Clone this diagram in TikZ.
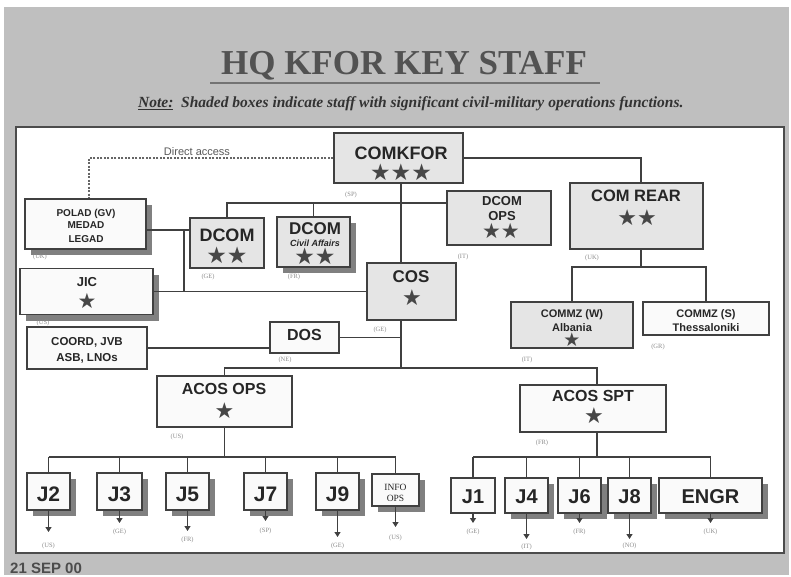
\documentclass[tikz,border=0pt]{standalone}
\usepackage{fontspec}
\setmainfont{Liberation Serif}
\setsansfont{Liberation Sans}
\newfontfamily\starfont{DejaVu Sans}
\usetikzlibrary{arrows.meta,shadows}
\newcommand\fsz[1]{\fontsize{#1}{#1}\selectfont}
\newcommand\bx[6]{\node[#1, minimum width=#5pt-#3pt, minimum height=#6pt-#4pt] (#2) at ({(#3+#5)/2},{(#4+#6)/2}) {};}
\newcommand\tl[5]{\node[tline, font={\sffamily\bfseries\fsz{#1}}] (#2) at (#3,#4) {#5};}
\newcommand\sr[5]{\node[sline, font={\starfont\fsz{#1}}] (#2) at (#3,#4) {#5};}
\tikzset{
  box/.style={draw=black!75, line width=1.3pt, fill=black!2, inner sep=0pt},
  shaded/.style={box, fill=black!10},
  shad/.style={drop shadow={shadow xshift=6pt, shadow yshift=-6pt, fill=black!50, opacity=1}},
  tline/.style={anchor=base, inner sep=0pt, text=black!85},
  sline/.style={inner sep=0pt, text=black!72},
  conn/.style={draw=black!75, line width=1.2pt},
  arr/.style={conn, -{Triangle[length=5pt,width=6pt]}},
  nat/.style={font=\rmfamily\fsz{6.5}, text=black!45, inner sep=0pt},
}
\begin{document}
\begin{tikzpicture}[x=1pt,y=-1pt]
\useasboundingbox (0,0) rectangle (791,577);
\fill[white] (0,0) rectangle (791,577);
\fill[black!25] (4,7) rectangle (789,575);
\draw[draw=black!70, line width=2pt, fill=white] (16,127) rectangle (784,553);

% title and note
\node[anchor=base, font=\rmfamily\bfseries\fsz{35}, text=black!68, inner sep=0pt] (title) at (404,75) {HQ KFOR KEY STAFF};
\draw[black!55, line width=2pt] (210,83) -- (600,83);
\node[anchor=base west, font=\rmfamily\bfseries\itshape\fsz{15.5}, text=black!80, inner sep=0pt] (note) at (138,108) {\underline{Note:}\ \ Shaded boxes indicate staff with significant civil-military operations functions.};
\node[anchor=base west, font=\sffamily\bfseries\fsz{15}, text=black!70, inner sep=0pt] (date) at (10,573) {21 SEP 00};

% boxes
\bx{shaded}{comkfor}{334}{133}{463}{183}
\bx{box,shad}{polad}{25}{199}{146}{249}
\bx{shaded}{dcom}{190}{218}{264}{268}
\bx{shaded,shad}{dcomca}{277}{217}{350}{267}
\bx{shaded}{dcomops}{447}{191}{551}{245}
\bx{shaded}{comrear}{570}{183}{703}{249}
\bx{box,shad}{jic}{20}{268.5}{153}{314.5}
\bx{shaded}{cos}{367}{263}{456}{320}
\bx{shaded}{commzw}{511}{302}{633}{348}
\bx{box}{commzs}{643}{302}{769}{335}
\bx{box}{dos}{270}{322}{339}{353}
\bx{box}{coord}{27}{327}{147}{369}
\bx{box}{acosops}{157}{376}{292}{427}
\bx{box}{acosspt}{520}{385}{666}{432}
\bx{box,shad}{jtwo}{27}{473}{70}{510}
\bx{box,shad}{jthree}{97}{473}{142}{510}
\bx{box,shad}{jfive}{166}{473}{209}{510}
\bx{box,shad}{jseven}{244}{473}{287}{510}
\bx{box,shad}{jnine}{316}{473}{359}{510}
\bx{box,shad}{info}{372}{474}{419}{506}
\bx{box}{jone}{451}{478}{495}{513}
\bx{box,shad}{jfour}{505}{478}{548}{513}
\bx{box,shad}{jsix}{558}{478}{601}{513}
\bx{box,shad}{jeight}{608}{478}{651}{513}
\bx{box,shad}{engr}{659}{478}{762}{513}

% box texts
\tl{18}{tcomkfor}{401}{159.5}{COMKFOR}
\sr{23}{scomkfor}{401}{172}{★★★}
\tl{10}{tpolada}{86}{216}{POLAD (GV)}
\tl{10}{tpoladb}{86}{229}{MEDAD}
\tl{10}{tpoladc}{86}{242}{LEGAD}
\tl{18}{tdcom}{227}{241}{DCOM}
\sr{23}{sdcom}{227}{255}{★★}
\tl{17}{tdcomca}{315}{234}{DCOM}
\node[tline, font={\sffamily\bfseries\itshape\fsz{9}}] (tcivil) at (315,246) {Civil Affairs};
\sr{23}{sdcomca}{315}{256}{★★}
\tl{13}{tdcomops}{502}{206}{DCOM}
\tl{13}{topsa}{502}{220}{OPS}
\sr{21}{sdcomops}{501}{231}{★★}
\tl{16.5}{tcomrear}{636}{202}{COM REAR}
\sr{22}{scomrear}{637}{218}{★★}
\tl{17}{tcos}{411}{282}{COS}
\sr{22}{scos}{412}{298}{★}
\tl{13}{tjic}{87}{286}{JIC}
\sr{21}{sjic}{87}{301}{★}
\tl{11}{tcommzw}{572}{317}{COMMZ (W)}
\tl{11}{talbania}{572}{331}{Albania}
\sr{19}{scommzw}{572}{340}{★}
\tl{11}{tcommzs}{706}{317}{COMMZ (S)}
\tl{11}{tthess}{706}{331}{Thessaloniki}
\tl{16}{tdos}{304.5}{340}{DOS}
\tl{11.5}{tcoorda}{87}{345}{COORD, JVB}
\tl{11.5}{tcoordb}{87}{361}{ASB, LNOs}
\tl{16}{tacosops}{224}{394}{ACOS OPS}
\sr{22}{sacosops}{224.5}{411}{★}
\tl{16}{tacosspt}{593}{401}{ACOS SPT}
\sr{22}{sacosspt}{594}{416}{★}
\tl{21}{tjtwo}{48.5}{501}{J2}
\tl{21}{tjthree}{119.5}{501}{J3}
\tl{21}{tjfive}{187.5}{501}{J5}
\tl{21}{tjseven}{265.5}{501}{J7}
\tl{21}{tjnine}{337.5}{501}{J9}
\node[tline, font={\rmfamily\fsz{9.5}}] (tinfoa) at (395.5,490) {INFO};
\node[tline, font={\rmfamily\fsz{9.5}}] (tinfob) at (395.5,501) {OPS};
\tl{20}{tjone}{473}{503.5}{J1}
\tl{20}{tjfour}{526.5}{503.5}{J4}
\tl{20}{tjsix}{579.5}{503.5}{J6}
\tl{20}{tjeight}{629.5}{503.5}{J8}
\tl{20}{tengr}{710.5}{503.5}{ENGR}

% connectors
\coordinate (spine) at (401,368);
\draw[conn] (comkfor.south -| spine) -- (cos.north -| spine);
\draw[conn] (cos.south -| spine) -- (spine);
\draw[conn] (acosops.north) |- (spine) -| ([xshift=4pt]acosspt.north);
\draw[conn] (dos.east) -- (dos.east -| spine);
\draw[conn] (coord.east) -- (coord.east -| dos.west);

\coordinate (hbar) at (230,203);
\draw[conn] (dcom.north) |- (dcomops.west |- hbar);
\draw[conn] (dcomca.north) -- (dcomca.north |- hbar);
\draw[conn] (comkfor.east) -| ([xshift=4.5pt]comrear.north);
\draw[black!60, line width=1.3pt, dash pattern=on 2pt off 1.5pt] (comkfor.west) -| ([xshift=3.5pt]polad.north);
\node[font=\sffamily\fsz{11}, text=black!65, inner sep=0pt] (dalabel) at (197,152) {Direct access};

\coordinate (pja) at (184,230);
\coordinate (pjb) at (184,291.5);
\draw[conn] (polad.east |- pja) -- (dcom.west |- pja);
\draw[conn] (pja) -- (pjb);
\draw[conn] (jic.east) -- (jic.east -| cos.west);

\coordinate (rearbar) at (641,267);
\draw[conn] (comrear.south -| rearbar) -- (rearbar);
\draw[conn] (commzw.north) |- (rearbar) -| (commzs.north);

\coordinate (opsbar) at (225,457);
\draw[conn] (acosops.south) -- (acosops.south |- opsbar);
\draw[conn] (jtwo.north |- opsbar) -- (info.north |- opsbar);
\foreach \nm in {jtwo,jthree,jfive,jseven,jnine,info}
  \draw[conn] (\nm.north) -- (\nm.north |- opsbar);

\coordinate (sptbar) at (597,457);
\draw[conn] ([xshift=4pt]acosspt.south) -- (sptbar);
\draw[conn] (jone.north |- sptbar) -- (engr.north |- sptbar);
\foreach \nm in {jone,jfour,jsix,jeight,engr}
  \draw[conn] (\nm.north) -- (\nm.north |- sptbar);

\foreach \nm/\ay/\ly/\tx in {jtwo/532/546/(US),jthree/523/532/(GE),jfive/531/540/(FR),jseven/521/531/(SP),jnine/537/546/(GE),info/527/538/(US),jone/523/532/(GE),jfour/539/547/(IT),jsix/523/532/(FR),jeight/539/546/(NO),engr/523/532/(UK)}{
  \coordinate (a\nm) at (\nm.south |- 0,\ay);
  \draw[arr] (\nm.south) -- (a\nm);
  \node[nat] (l\nm) at (\nm.south |- 0,\ly) {\tx};
}

% nation labels
\node[nat] (lcomkfor) at (351,195) {(SP)};
\node[nat] (lpolad) at (40,257) {(UK)};
\node[nat] (ldcom) at (208,277) {(GE)};
\node[nat] (ldcomca) at (294,277) {(FR)};
\node[nat] (ldcomops) at (463,257) {(IT)};
\node[nat] (lcomrear) at (592,258) {(UK)};
\node[nat] (lcommzw) at (527,360) {(IT)};
\node[nat] (lcommzs) at (658,347) {(GR)};
\node[nat] (ljic) at (43,323) {(US)};
\node[nat] (lcos) at (380,330) {(GE)};
\node[nat] (ldos) at (285,360) {(NE)};
\node[nat] (lacosops) at (177,437) {(US)};
\node[nat] (lacosspt) at (542,443) {(FR)};
\end{tikzpicture}
\end{document}
